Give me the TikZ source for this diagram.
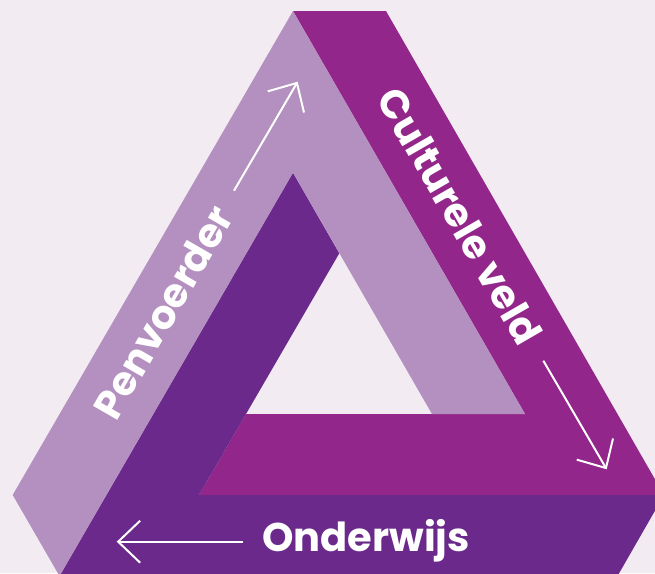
\documentclass[tikz,border=0pt]{standalone}
\usepackage{fontspec}
\setmainfont{Poppins}
\usetikzlibrary{arrows.meta}
\definecolor{bg}{HTML}{F2EBF2}
\definecolor{lightp}{HTML}{B390BF}
\definecolor{mag}{HTML}{93268A}
\definecolor{darkp}{HTML}{6B2A8B}
\begin{document}
\begin{tikzpicture}[x=1pt,y=-1pt,
  lbl/.style={text=white,inner sep=0pt,font=\fontsize{40}{48}\selectfont\bfseries},
  arr/.style={draw=white,line width=2pt,-{Straight Barb[length=22pt,width=42pt]}}]
\fill[bg] (0,0) rectangle (655,573);
\useasboundingbox (0,0) rectangle (655,573);
\clip (0,0) rectangle (655,573);
% outer vertices
\coordinate (T1) at (293,11);
\coordinate (T2) at (386,11);
\coordinate (L) at (12.7,495);
\coordinate (R) at (664,495);
\coordinate (BL) at (59.5,576);
\coordinate (BR) at (617.5,576);
% inner vertices
\coordinate (D) at (293,172.7);
\coordinate (H) at (339.3,253.3);
\coordinate (HL) at (246,414);
\coordinate (HR) at (432,414);
\coordinate (F) at (525,414);
\coordinate (M) at (199,495);
% bands
\fill[mag] (T1) -- (T2) -- (R) -- (M) -- (HL) -- (F) -- cycle;
\fill[darkp] (D) -- (BL) -- (BR) -- (R) -- (M) -- (H) -- cycle;
\fill[lightp] (T1) -- (L) -- (BL) -- (D) -- (HR) -- (F) -- cycle;
% labels
\node[lbl, rotate=60] (pen) at (163,312) {Penvoerder};
\node[lbl, rotate=-60] (cul) at (460,216) {Culturele veld};
\node[lbl, anchor=base] (ond) at (366,551.7) {Onderwijs};
% arrows
\coordinate (a1s) at (234,190.7);
\coordinate (a1e) at (297.7,81.7);
\coordinate (a2s) at (543.3,360.7);
\coordinate (a2e) at (606.7,469.3);
\coordinate (a3s) at (243.3,541.7);
\coordinate (a3e) at (116.7,541.7);
\draw[arr] (a1s) -- (a1e);
\draw[arr] (a2s) -- (a2e);
\draw[arr] (a3s) -- (a3e);
\end{tikzpicture}
\end{document}
